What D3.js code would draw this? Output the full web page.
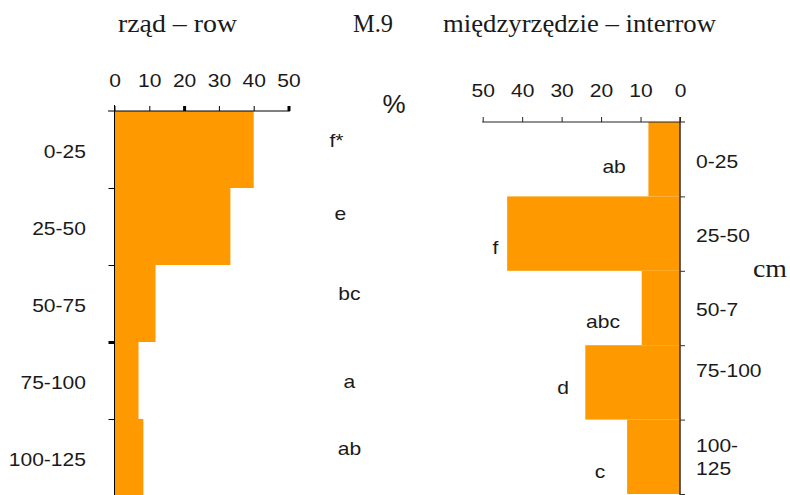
<!DOCTYPE html>
<html>
<head>
<meta charset="utf-8">
<script src="https://cdn.jsdelivr.net/npm/d3@7"></script>
<style>
  body { margin: 0; background: #fff; }
  svg { display: block; }
</style>
</head>
<body>
<div id="chart"></div>
<script>
// depth classes (cm) and share of roots (%)
const depths = ["0-25", "25-50", "50-75", "75-100", "100-125"];
const depthStart = [0, 25, 50, 75, 100];
const rowValues = [40, 33.3, 11.8, 6.9, 8.3];
const interrowValues = [8, 43.8, 9.7, 24, 13.4];
const rowLetters = ["f*", "e", "bc", "a", "ab"];
const interrowLetters = ["ab", "f", "abc", "d", "c"];
const interrowDepthLabels = [["0-25"], ["25-50"], ["50-7"], ["75-100"], ["100-", "125"]];
const pctTicks = [0, 10, 20, 30, 40, 50];

// where the letters sit, in % units along each axis
const rowLetterAt = [63.8, 64.9, 67.5, 67.5, 67.5];
const interrowLetterAt = [16.7, 46.8, 19.5, 29.6, 20.3];

const width = 790, height = 495;
const orange = "#ff9900";
const sans = "'Liberation Sans', Arial, sans-serif";
const serif = "'Liberation Serif', 'Times New Roman', serif";
const stretch = 1.17; // the original text is a bit wider than Arial

const svg = d3.select("#chart")
  .append("svg")
    .attr("width", width)
    .attr("height", height);

// text helper: put a label at (x,y) and widen it
function label(sel, xf, yf) {
  sel.attr("x", 0).attr("y", 0)
    .attr("transform", (d, i) => `translate(${xf(d, i)},${yf(d, i)}) scale(${stretch},1)`)
    .attr("dy", "0.35em")
    .style("font-family", sans)
    .style("font-size", "18px")
    .attr("fill", "#1a1a1a");
}

/* ---------- left panel: rząd ---------- */
const xL = d3.scaleLinear().domain([0, 50]).range([114.5, 288.5]);
const yL = d3.scaleLinear().domain([0, 125]).range([111, 496]);

svg.append("g")
  .selectAll("rect")
  .data(rowValues)
  .join("rect")
    .attr("x", xL(0))
    .attr("y", (d, i) => yL(depthStart[i]))
    .attr("width", d => xL(d) - xL(0))
    .attr("height", (d, i) => yL(depthStart[i] + 25) - yL(depthStart[i]))
    .attr("fill", orange);

const axTopL = svg.append("g")
  .attr("transform", `translate(0,${yL(0)})`)
  .call(d3.axisTop(xL).tickValues(pctTicks).tickSize(5).tickSizeOuter(0).tickPadding(19));
axTopL.select(".domain").remove();
axTopL.selectAll("line").attr("stroke", "#000").attr("stroke-width", d => (d === 20 || d === 50) ? 3 : 1);
axTopL.selectAll("text")
  .attr("transform", `scale(${stretch},1)`)
  .style("font-family", sans).style("font-size", "18px").attr("fill", "#1a1a1a");
svg.append("line")
  .attr("x1", 108).attr("x2", xL(50) + 1.5)
  .attr("y1", yL(0)).attr("y2", yL(0))
  .attr("stroke", "#000");

const axLeftL = svg.append("g")
  .attr("transform", `translate(${xL(0)},0)`)
  .call(d3.axisLeft(yL).tickValues([25, 50, 75, 100]).tickSize(6).tickSizeOuter(0).tickFormat(""));
axLeftL.select(".domain").attr("d", `M0,${yL(0) - 6}V${height}`).attr("stroke", "#000");
axLeftL.selectAll("line").attr("stroke", "#000").attr("stroke-width", d => d === 75 ? 3 : 1);

svg.selectAll("text.depthL")
  .data(depths)
  .join("text")
    .attr("class", "depthL")
    .attr("text-anchor", "end")
    .call(label, () => 86, (d, i) => yL(depthStart[i]) + 41)
    .text(d => d);

svg.selectAll("text.letterL")
  .data(rowLetters)
  .join("text")
    .attr("class", "letterL")
    .attr("text-anchor", "middle")
    .call(label, (d, i) => xL(rowLetterAt[i]), (d, i) => yL(depthStart[i]) + [30, 26, 29, 40, 30][i])
    .text(d => d);

svg.append("text")
  .attr("x", 394).attr("y", 113)
  .attr("text-anchor", "middle")
  .style("font-family", sans).style("font-size", "26px")
  .attr("fill", "#1a1a1a")
  .text("%");

/* ---------- right panel: międzyrzędzie ---------- */
const xR = d3.scaleLinear().domain([0, 50]).range([680, 482.7]);
const yR = d3.scaleLinear().domain([0, 125]).range([122, 494]);

svg.append("g")
  .selectAll("rect")
  .data(interrowValues)
  .join("rect")
    .attr("x", d => xR(d))
    .attr("y", (d, i) => yR(depthStart[i]))
    .attr("width", d => xR(0) - xR(d))
    .attr("height", (d, i) => yR(depthStart[i] + 25) - yR(depthStart[i]))
    .attr("fill", orange);

const axTopR = svg.append("g")
  .attr("transform", `translate(0,${yR(0)})`)
  .call(d3.axisTop(xR).tickValues(pctTicks).tickSize(5).tickSizeOuter(0).tickPadding(20));
axTopR.select(".domain").remove();
axTopR.selectAll("line").attr("stroke", "#222");
axTopR.selectAll("text")
  .attr("transform", `scale(${stretch},1)`)
  .style("font-family", sans).style("font-size", "18px").attr("fill", "#1a1a1a");
svg.append("line")
  .attr("x1", xR(50) - 0.5).attr("x2", 685)
  .attr("y1", yR(0)).attr("y2", yR(0))
  .attr("stroke", "#222");

const axRightR = svg.append("g")
  .attr("transform", `translate(${xR(0)},0)`)
  .call(d3.axisRight(yR).tickValues([25, 50, 75, 100, 125]).tickSize(5).tickSizeOuter(0).tickFormat(""));
axRightR.select(".domain").attr("d", `M0,${yR(0) - 5}V${height}`).attr("stroke", "#3a2a1a").attr("stroke-width", 1.5);
axRightR.selectAll("line").attr("stroke", "#333");

const depthR = svg.selectAll("text.depthR")
  .data(interrowDepthLabels)
  .join("text")
    .attr("class", "depthR")
    .call(label, () => 696, (d, i) => yR(depthStart[i]) + (d.length > 1 ? 26 : [40, 39, 39, 25][i]))
    .attr("dy", null);
depthR.selectAll("tspan")
  .data(d => d)
  .join("tspan")
    .attr("x", 0)
    .attr("dy", (d, j) => j === 0 ? "0.35em" : "23")
    .text(d => d);

svg.selectAll("text.letterR")
  .data(interrowLetters)
  .join("text")
    .attr("class", "letterR")
    .attr("text-anchor", "middle")
    .call(label, (d, i) => xR(interrowLetterAt[i]), (d, i) => yR(depthStart[i]) + [45, 51, 51, 42, 52][i])
    .text(d => d);

svg.append("text")
  .attr("x", 753).attr("y", 277)
  .attr("textLength", 34)
  .attr("lengthAdjust", "spacingAndGlyphs")
  .style("font-family", serif).style("font-size", "25px")
  .attr("fill", "#1a1a1a")
  .text("cm");

/* ---------- titles ---------- */
const titles = [
  {text: "rząd – row", x: 118, len: 119},
  {text: "M.9", x: 353, len: 40},
  {text: "międzyrzędzie – interrow", x: 443, len: 273}
];
svg.selectAll("text.title")
  .data(titles)
  .join("text")
    .attr("class", "title")
    .attr("x", d => d.x)
    .attr("y", 32)
    .attr("textLength", d => d.len)
    .attr("lengthAdjust", "spacingAndGlyphs")
    .style("font-family", serif)
    .style("font-size", "26px")
    .attr("fill", "#1a1a1a")
    .text(d => d.text);
</script>
</body>
</html>
